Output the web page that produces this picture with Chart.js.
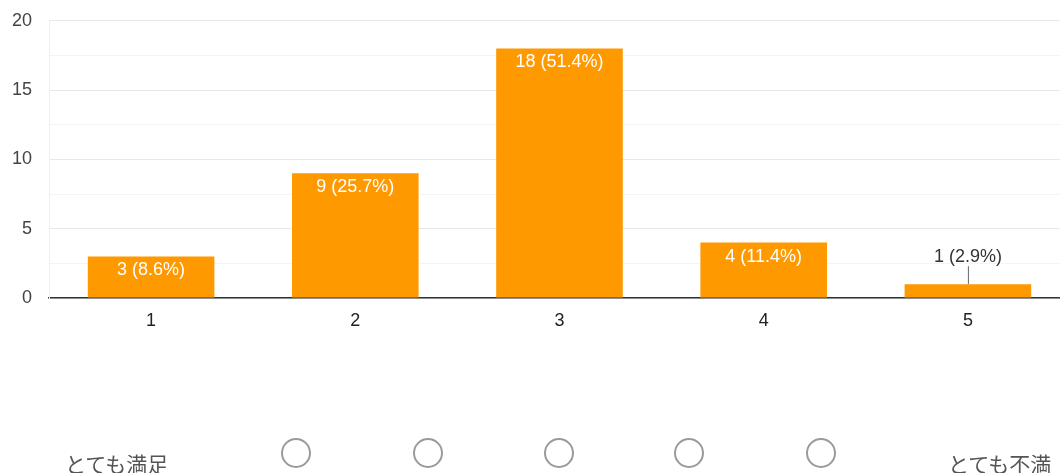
<!DOCTYPE html>
<html>
<head>
<meta charset="utf-8">
<script src="https://cdn.jsdelivr.net/npm/chart.js@4/dist/chart.umd.min.js"></script>
<style>
    html, body { margin: 0; padding: 0; background: #fff; overflow: hidden; width: 1060px; height: 473px; }
    #chartBox { position: absolute; left: 0; top: -7px; width: 1070px; height: 347px; }
    .scale { position: absolute; left: 0; top: 0; width: 1060px; height: 473px; font-family: 'Noto Sans CJK JP', sans-serif; color: #555; }
    .lbl { position: absolute; top: 451px; font-size: 21px; line-height: 24px; white-space: nowrap; }
    .radio { position: absolute; top: 438px; width: 30px; height: 30px; border: 2.5px solid #9a9a9a; border-radius: 50%; box-sizing: border-box; }
</style>
</head>
<body>
<div id="chartBox"><canvas id="ratingChart"></canvas></div>
<div class="scale">
    <div class="lbl" style="left:65px">とても満足</div>
    <div class="radio" style="left:281px"></div>
    <div class="radio" style="left:413px"></div>
    <div class="radio" style="left:544px"></div>
    <div class="radio" style="left:674px"></div>
    <div class="radio" style="left:806px"></div>
    <div class="lbl" style="left:948px">とても不満</div>
</div>
<script>
// ================================
// DATA
// ================================
const categories = ['1', '2', '3', '4', '5'];
const counts = [3, 9, 18, 4, 1];
const percents = ['8.6%', '25.7%', '51.4%', '11.4%', '2.9%'];
const yTicks = [0, 5, 10, 15, 20];

const FONT = "'Liberation Sans', Arial, sans-serif";

// Value labels: inside the bar when it fits, above with a leader line otherwise
const barLabels = {
    id: 'barLabels',
    afterDatasetsDraw(chart) {
        const ctx = chart.ctx;
        const meta = chart.getDatasetMeta(0);
        ctx.save();
        ctx.font = `18px ${FONT}`;
        ctx.textAlign = 'center';
        ctx.textBaseline = 'middle';
        meta.data.forEach((bar, i) => {
            const text = `${counts[i]} (${percents[i]})`;
            const h = bar.base - bar.y;
            if (h > 30) {
                ctx.fillStyle = '#ffffff';
                ctx.fillText(text, bar.x, bar.y + 14);
            } else {
                ctx.fillStyle = '#333333';
                ctx.fillText(text, bar.x, bar.y - 27);
                ctx.strokeStyle = '#666666';
                ctx.lineWidth = 1;
                ctx.beginPath();
                ctx.moveTo(bar.x + 0.5, bar.y - 18);
                ctx.lineTo(bar.x + 0.5, bar.y);
                ctx.stroke();
            }
        });
        ctx.restore();
    }
};

new Chart(document.getElementById('ratingChart'), {
    type: 'bar',
    data: {
        labels: categories,
        datasets: [{
            data: counts,
            backgroundColor: '#ff9900',
            borderWidth: 0,
            categoryPercentage: 1,
            barPercentage: 0.62
        }]
    },
    options: {
        responsive: true,
        maintainAspectRatio: false,
        animation: false,
        layout: { padding: { top: 13, right: 0, left: 0, bottom: 0 } },
        plugins: {
            legend: { display: false },
            tooltip: { enabled: false }
        },
        scales: {
            x: {
                grid: { display: false, drawTicks: false },
                border: { color: '#333333', width: 1.5 },
                ticks: {
                    color: '#222222',
                    padding: 12,
                    font: { family: FONT, size: 18 }
                },
                afterFit(scale) { scale.height = 42; }
            },
            y: {
                min: 0,
                max: 20,
                grid: {
                    drawTicks: false,
                    color: (c) => (c.tick && yTicks.includes(c.tick.value)) ? '#e8e8e8' : '#f4f4f4'
                },
                border: { color: '#eeeeee' },
                ticks: {
                    stepSize: 2.5,
                    color: '#444444',
                    padding: 17,
                    font: { family: FONT, size: 18 },
                    callback: (v) => yTicks.includes(v) ? v : ''
                },
                afterFit(scale) { scale.width = 49; }
            }
        }
    },
    plugins: [barLabels]
});
</script>
</body>
</html>
